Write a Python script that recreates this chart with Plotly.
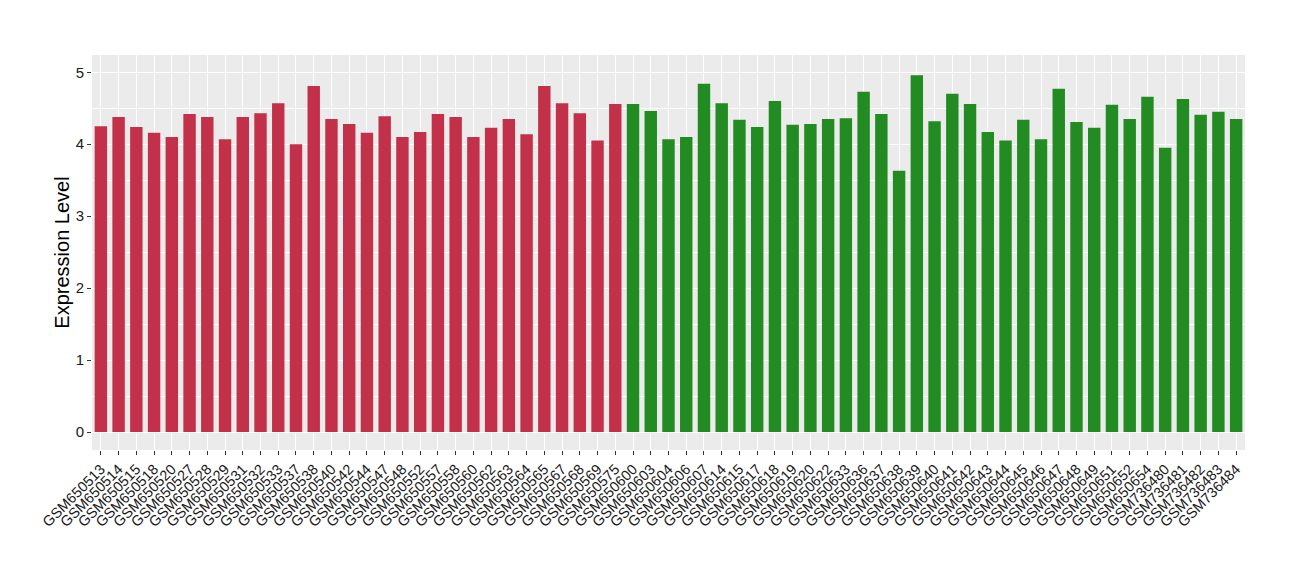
import plotly.graph_objects as go

red_samples = ["GSM650513", "GSM650514", "GSM650515", "GSM650518", "GSM650520", "GSM650527",
               "GSM650528", "GSM650529", "GSM650531", "GSM650532", "GSM650533", "GSM650537",
               "GSM650538", "GSM650540", "GSM650542", "GSM650544", "GSM650547", "GSM650548",
               "GSM650552", "GSM650557", "GSM650558", "GSM650560", "GSM650562", "GSM650563",
               "GSM650564", "GSM650565", "GSM650567", "GSM650568", "GSM650569", "GSM650575"]
red_values = [4.25, 4.38, 4.24, 4.16, 4.10, 4.42, 4.38, 4.07, 4.38, 4.43, 4.57, 4.00,
              4.81, 4.35, 4.28, 4.16, 4.39, 4.10, 4.17, 4.42, 4.38, 4.10, 4.23, 4.35,
              4.14, 4.81, 4.57, 4.43, 4.05, 4.56]

green_samples = ["GSM650600", "GSM650603", "GSM650604", "GSM650606", "GSM650607", "GSM650614",
                 "GSM650615", "GSM650617", "GSM650618", "GSM650619", "GSM650620", "GSM650622",
                 "GSM650633", "GSM650636", "GSM650637", "GSM650638", "GSM650639", "GSM650640",
                 "GSM650641", "GSM650642", "GSM650643", "GSM650644", "GSM650645", "GSM650646",
                 "GSM650647", "GSM650648", "GSM650649", "GSM650651", "GSM650652", "GSM650654",
                 "GSM736480", "GSM736481", "GSM736482", "GSM736483", "GSM736484"]
green_values = [4.56, 4.46, 4.07, 4.10, 4.84, 4.57, 4.34, 4.24, 4.60, 4.27, 4.28, 4.35,
                4.36, 4.73, 4.42, 3.63, 4.96, 4.32, 4.70, 4.56, 4.17, 4.05, 4.34, 4.07,
                4.77, 4.31, 4.23, 4.55, 4.35, 4.66, 3.95, 4.63, 4.41, 4.45, 4.35]

all_samples = red_samples + green_samples

fig = go.Figure()
fig.add_trace(go.Bar(x=red_samples, y=red_values, marker_color="#C3304A",
                     marker_line_width=0, showlegend=False))
fig.add_trace(go.Bar(x=green_samples, y=green_values, marker_color="#228B22",
                     marker_line_width=0, showlegend=False))

fig.update_layout(
    width=1300, height=580,
    margin=dict(l=84, r=63, t=47, b=138),
    paper_bgcolor="white",
    plot_bgcolor="#EBEBEB",
    bargap=0.3,
    font=dict(family="Liberation Sans, Arial, sans-serif", color="#1A1A1A"),
)
fig.update_xaxes(
    categoryorder="array", categoryarray=all_samples,
    tickmode="array", tickvals=all_samples, ticktext=all_samples,
    tickangle=-45, tickfont=dict(size=14.5, color="#1A1A1A"),
    showgrid=True, gridcolor="white", gridwidth=1.2,
    ticks="outside", ticklen=4, tickcolor="#333333",
    zeroline=False, showline=False, automargin=False,
)
fig.update_yaxes(
    range=[-0.25, 5.24], tickvals=[0, 1, 2, 3, 4, 5],
    tickfont=dict(size=15, color="#1A1A1A"),
    title=dict(text="Expression Level", font=dict(size=20, color="black"), standoff=0),
    showgrid=True, gridcolor="white", gridwidth=1.2,
    minor=dict(dtick=0.5, showgrid=True, gridcolor="white", gridwidth=0.6),
    ticks="outside", ticklen=4, tickcolor="#333333",
    zeroline=False, showline=False, automargin=False,
)

fig.write_html("out.html")
